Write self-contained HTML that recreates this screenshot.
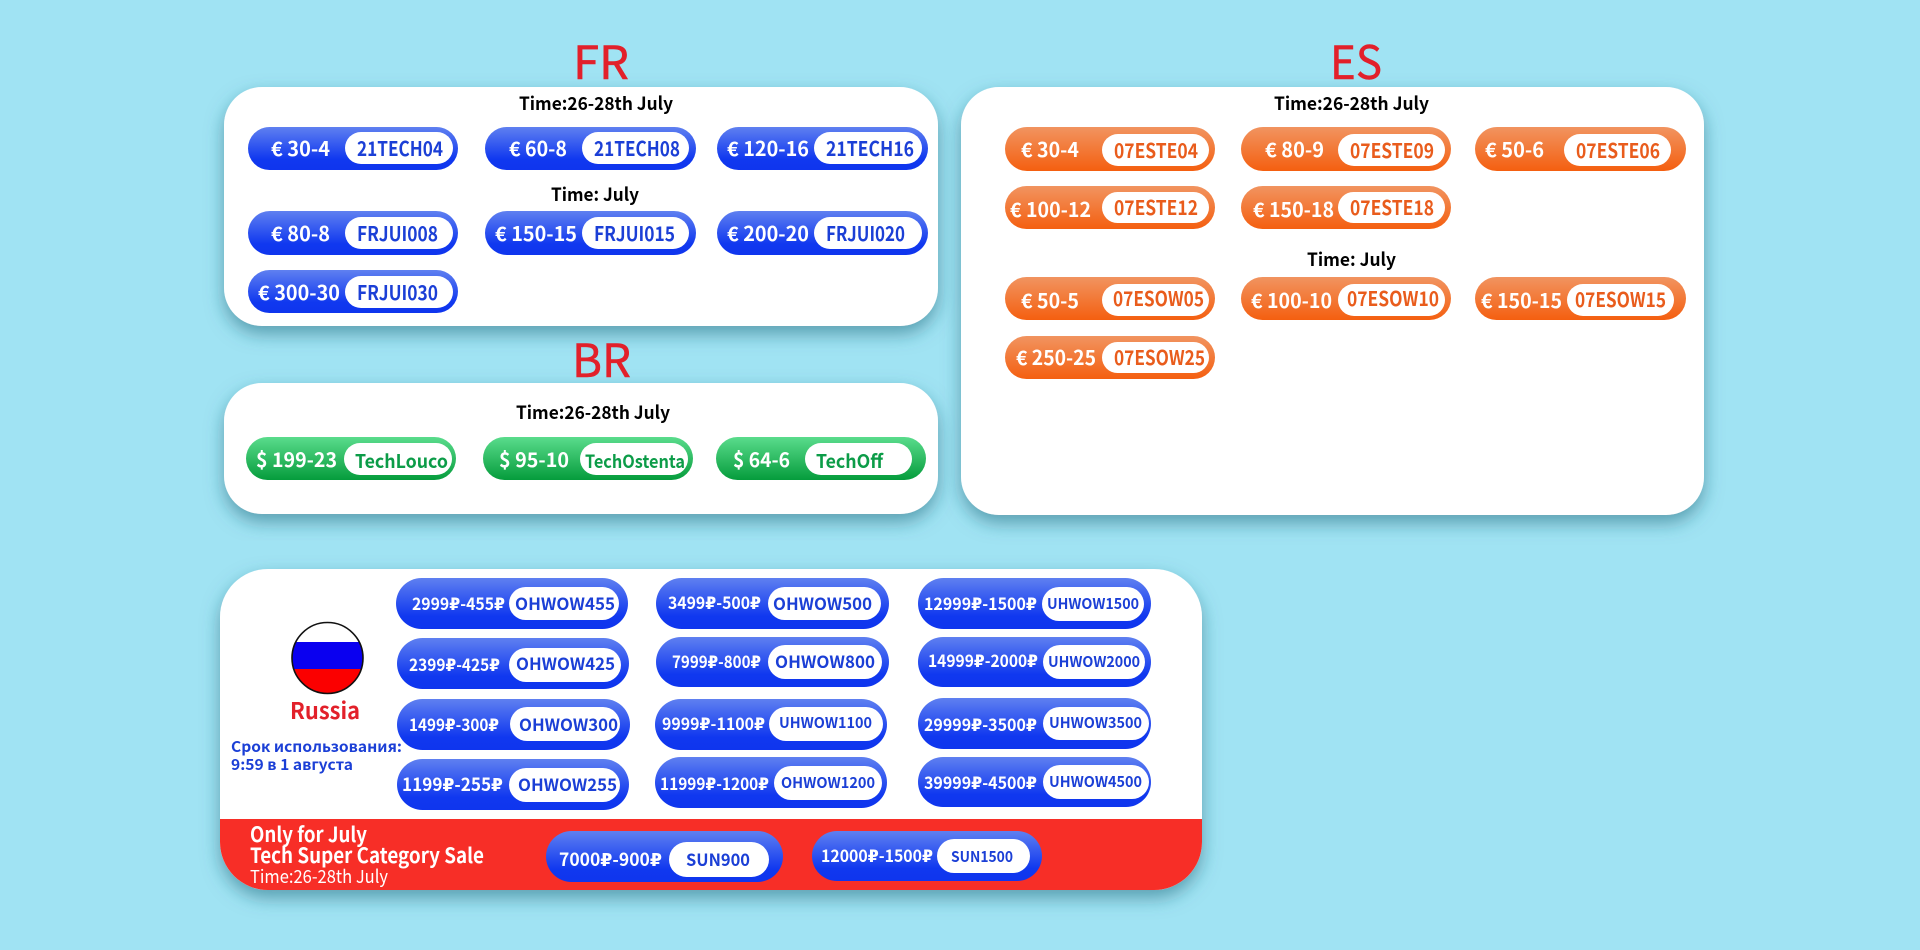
<!DOCTYPE html>
<html lang="en"><head><meta charset="utf-8"><title>Coupons</title>
<style>
html,body{margin:0;padding:0;width:1920px;height:950px;overflow:hidden;background:#a0e3f3}
svg{display:block}
text{font-family:"Noto Sans CJK SC","Liberation Sans","DejaVu Sans",sans-serif;font-weight:700}
.w{fill:#fff;font-size:20px}
.c{fill:#1b3fd6;font-size:20px}
.o{fill:#e95c1c;font-size:20px}
.g{fill:#0c9c48;font-size:20px}
.t{fill:#000;font-size:18px}
.h{fill:#e2202a;font-size:46px;font-weight:400;stroke:#e2202a;stroke-width:.5px}
.p{fill:#fff;font-size:17px}
.q{fill:#1b3fd6;font-size:17px}
.u{fill:#1b3fd6;font-size:15px}
</style></head><body>
<svg xmlns="http://www.w3.org/2000/svg" width="1920" height="950" viewBox="0 0 1920 950">
<defs>
<linearGradient id="b" x1="0" y1="0" x2="0" y2="1"><stop offset="0" stop-color="#5f80f0"/><stop offset=".75" stop-color="#1038ef"/><stop offset="1" stop-color="#0f35ee"/></linearGradient>
<linearGradient id="a" x1="0" y1="0" x2="0" y2="1"><stop offset="0" stop-color="#f19460"/><stop offset="1" stop-color="#f45f10"/></linearGradient>
<linearGradient id="n" x1="0" y1="0" x2="0" y2="1"><stop offset="0" stop-color="#5adc8c"/><stop offset="1" stop-color="#059c3c"/></linearGradient>
<filter id="s" x="-10%" y="-15%" width="120%" height="135%"><feDropShadow dx="0" dy="8" stdDeviation="9" flood-color="#1a6478" flood-opacity=".55"/></filter>
<clipPath id="fc"><circle cx="327.5" cy="658" r="35.5"/></clipPath>
</defs>

<!-- cards -->
<rect x="224" y="87" width="714" height="239" rx="38" fill="#fff" filter="url(#s)"/>
<rect x="224" y="383" width="714" height="131" rx="38" fill="#fff" filter="url(#s)"/>
<rect x="961" y="87" width="743" height="428" rx="38" fill="#fff" filter="url(#s)"/>
<rect x="220" y="569" width="982" height="321" rx="48" fill="#fff" filter="url(#s)"/>
<path d="M220 819H1202V842A48 48 0 0 1 1154 890H268A48 48 0 0 1 220 842Z" fill="#f72e27"/>

<!-- titles -->
<text class="h" x="573" y="79" textLength="56" lengthAdjust="spacingAndGlyphs">FR</text>
<text class="h" x="1330" y="79" textLength="52" lengthAdjust="spacingAndGlyphs">ES</text>
<text class="h" x="572" y="377" textLength="59" lengthAdjust="spacingAndGlyphs">BR</text>
<text class="t" x="519" y="110" textLength="154" lengthAdjust="spacingAndGlyphs">Time:26-28th July</text>
<text class="t" x="551" y="201" textLength="88" lengthAdjust="spacingAndGlyphs">Time: July</text>
<text class="t" x="1274" y="110" textLength="155" lengthAdjust="spacingAndGlyphs">Time:26-28th July</text>
<text class="t" x="1307" y="266" textLength="89" lengthAdjust="spacingAndGlyphs">Time: July</text>
<text class="t" x="516" y="419" textLength="154" lengthAdjust="spacingAndGlyphs">Time:26-28th July</text>

<!-- FR -->
<g fill="url(#b)">
<rect x="248" y="127" width="210" height="43" rx="21.5"/><rect x="485" y="127" width="211" height="43" rx="21.5"/><rect x="717" y="127" width="211" height="43" rx="21.5"/>
<rect x="248" y="211" width="210" height="44" rx="22"/><rect x="485" y="211" width="211" height="44" rx="22"/><rect x="717" y="211" width="211" height="44" rx="22"/>
<rect x="248" y="270" width="210" height="43" rx="21.5"/>
</g>
<g fill="#fff">
<rect x="345" y="132" width="108" height="32" rx="16"/><rect x="582" y="132" width="107" height="32" rx="16"/><rect x="814" y="132" width="108" height="32" rx="16"/>
<rect x="345" y="217" width="108" height="32" rx="16"/><rect x="582" y="217" width="107" height="32" rx="16"/><rect x="814" y="217" width="108" height="32" rx="16"/>
<rect x="345" y="276" width="108" height="32" rx="16"/>
</g>
<text class="w" x="271" y="156" textLength="59" lengthAdjust="spacingAndGlyphs">€ 30-4</text>
<text class="c" x="357" y="156" textLength="86" lengthAdjust="spacingAndGlyphs">21TECH04</text>
<text class="w" x="509" y="156" textLength="58" lengthAdjust="spacingAndGlyphs">€ 60-8</text>
<text class="c" x="594" y="156" textLength="86" lengthAdjust="spacingAndGlyphs">21TECH08</text>
<text class="w" x="727" y="156" textLength="82" lengthAdjust="spacingAndGlyphs">€ 120-16</text>
<text class="c" x="826" y="156" textLength="88" lengthAdjust="spacingAndGlyphs">21TECH16</text>
<text class="w" x="271" y="241" textLength="59" lengthAdjust="spacingAndGlyphs">€ 80-8</text>
<text class="c" x="357" y="241" textLength="81" lengthAdjust="spacingAndGlyphs">FRJUI008</text>
<text class="w" x="495" y="241" textLength="82" lengthAdjust="spacingAndGlyphs">€ 150-15</text>
<text class="c" x="594" y="241" textLength="81" lengthAdjust="spacingAndGlyphs">FRJUI015</text>
<text class="w" x="727" y="241" textLength="82" lengthAdjust="spacingAndGlyphs">€ 200-20</text>
<text class="c" x="826" y="241" textLength="79" lengthAdjust="spacingAndGlyphs">FRJUI020</text>
<text class="w" x="258" y="300" textLength="82" lengthAdjust="spacingAndGlyphs">€ 300-30</text>
<text class="c" x="357" y="300" textLength="81" lengthAdjust="spacingAndGlyphs">FRJUI030</text>

<!-- ES -->
<g fill="url(#a)">
<rect x="1005" y="127" width="210" height="44" rx="22"/><rect x="1241" y="127" width="210" height="44" rx="22"/><rect x="1475" y="127" width="211" height="44" rx="22"/>
<rect x="1005" y="186" width="210" height="43" rx="21.5"/><rect x="1241" y="186" width="210" height="43" rx="21.5"/>
<rect x="1005" y="277" width="210" height="43" rx="21.5"/><rect x="1241" y="277" width="210" height="43" rx="21.5"/><rect x="1475" y="277" width="211" height="43" rx="21.5"/>
<rect x="1005" y="336" width="210" height="43" rx="21.5"/>
</g>
<g fill="#fff">
<rect x="1102" y="134" width="107" height="32" rx="16"/><rect x="1338" y="134" width="107" height="32" rx="16"/><rect x="1564" y="134" width="107" height="32" rx="16"/>
<rect x="1102" y="192" width="107" height="31" rx="15.500"/><rect x="1338" y="192" width="107" height="31" rx="15.500"/>
<rect x="1102" y="284" width="107" height="32" rx="16"/><rect x="1338" y="284" width="107" height="32" rx="16"/><rect x="1567" y="284" width="107" height="32" rx="16"/>
<rect x="1102" y="342" width="107" height="31" rx="15.500"/>
</g>
<text class="w" x="1021" y="157" textLength="58" lengthAdjust="spacingAndGlyphs">€ 30-4</text>
<text class="o" x="1114" y="158" textLength="84" lengthAdjust="spacingAndGlyphs">07ESTE04</text>
<text class="w" x="1265" y="157" textLength="59" lengthAdjust="spacingAndGlyphs">€ 80-9</text>
<text class="o" x="1350" y="158" textLength="84" lengthAdjust="spacingAndGlyphs">07ESTE09</text>
<text class="w" x="1485" y="157" textLength="59" lengthAdjust="spacingAndGlyphs">€ 50-6</text>
<text class="o" x="1576" y="158" textLength="84" lengthAdjust="spacingAndGlyphs">07ESTE06</text>
<text class="w" x="1010" y="217" textLength="81" lengthAdjust="spacingAndGlyphs">€ 100-12</text>
<text class="o" x="1114" y="215" textLength="84" lengthAdjust="spacingAndGlyphs">07ESTE12</text>
<text class="w" x="1253" y="217" textLength="81" lengthAdjust="spacingAndGlyphs">€ 150-18</text>
<text class="o" x="1350" y="215" textLength="84" lengthAdjust="spacingAndGlyphs">07ESTE18</text>
<text class="w" x="1021" y="308" textLength="58" lengthAdjust="spacingAndGlyphs">€ 50-5</text>
<text class="o" x="1113" y="306" textLength="91" lengthAdjust="spacingAndGlyphs">07ESOW05</text>
<text class="w" x="1251" y="308" textLength="81" lengthAdjust="spacingAndGlyphs">€ 100-10</text>
<text class="o" x="1347" y="306" textLength="92" lengthAdjust="spacingAndGlyphs">07ESOW10</text>
<text class="w" x="1481" y="308" textLength="81" lengthAdjust="spacingAndGlyphs">€ 150-15</text>
<text class="o" x="1575" y="307" textLength="91" lengthAdjust="spacingAndGlyphs">07ESOW15</text>
<text class="w" x="1016" y="365" textLength="80" lengthAdjust="spacingAndGlyphs">€ 250-25</text>
<text class="o" x="1114" y="365" textLength="91" lengthAdjust="spacingAndGlyphs">07ESOW25</text>

<!-- BR -->
<g fill="url(#n)">
<rect x="246" y="437" width="210" height="43" rx="21.5"/><rect x="483" y="437" width="210" height="43" rx="21.5"/><rect x="716" y="437" width="210" height="43" rx="21.5"/>
</g>
<g fill="#fff">
<rect x="344" y="443" width="108" height="32" rx="16"/><rect x="580" y="443" width="108" height="32" rx="16"/><rect x="805" y="443" width="107" height="32" rx="16"/>
</g>
<text class="w" x="256" y="467" textLength="81" lengthAdjust="spacingAndGlyphs">$ 199-23</text>
<text class="g" x="355" y="468" textLength="93" lengthAdjust="spacingAndGlyphs" style="font-size:19px">TechLouco</text>
<text class="w" x="499" y="467" textLength="70" lengthAdjust="spacingAndGlyphs">$ 95-10</text>
<text class="g" x="585" y="468" textLength="100" lengthAdjust="spacingAndGlyphs" style="font-size:18px">TechOstenta</text>
<text class="w" x="733" y="467" textLength="57" lengthAdjust="spacingAndGlyphs">$ 64-6</text>
<text class="g" x="816" y="468" textLength="67" lengthAdjust="spacingAndGlyphs" style="font-size:19px">TechOff</text>

<!-- RU left -->
<g clip-path="url(#fc)">
<rect x="290" y="620" width="75" height="22" fill="#fff"/>
<rect x="290" y="642" width="75" height="27" fill="#0a00f0"/>
<rect x="290" y="669" width="75" height="27" fill="#fb0000"/>
</g>
<circle cx="327.5" cy="658" r="35.5" fill="none" stroke="#111" stroke-width="1.600"/>
<text x="290" y="719" textLength="70" lengthAdjust="spacingAndGlyphs" style="font-size:23px;fill:#e2202a">Russia</text>
<text x="231" y="752" textLength="171" lengthAdjust="spacingAndGlyphs" style="font-size:15px;fill:#1b3fd6">Срок использования:</text>
<text x="231" y="770" textLength="122" lengthAdjust="spacingAndGlyphs" style="font-size:15px;fill:#1b3fd6">9:59 в 1 августа</text>

<!-- RU pills -->
<g fill="url(#b)">
<rect x="396" y="578" width="232" height="51" rx="25.5"/><rect x="397" y="638" width="232" height="51" rx="25.5"/><rect x="397" y="699" width="233" height="51" rx="25.5"/><rect x="397" y="759" width="232" height="51" rx="25.5"/>
<rect x="656" y="578" width="233" height="51" rx="25.5"/><rect x="656" y="637" width="233" height="50" rx="25"/><rect x="655" y="699" width="232" height="51" rx="25.5"/><rect x="655" y="757" width="232" height="51" rx="25.5"/>
<rect x="918" y="578" width="233" height="51" rx="25.5"/><rect x="918" y="637" width="233" height="50" rx="25"/><rect x="918" y="698" width="233" height="51" rx="25.5"/><rect x="918" y="757" width="233" height="50" rx="25"/>
<rect x="546" y="831" width="237" height="51" rx="25.5"/><rect x="812" y="831" width="230" height="50" rx="25"/>
</g>
<g fill="#fff">
<rect x="509" y="587" width="110" height="33" rx="16.500"/><rect x="509" y="648" width="112" height="34" rx="17"/><rect x="510" y="707" width="110" height="34" rx="17"/><rect x="509" y="768" width="111" height="34" rx="17"/>
<rect x="768" y="587" width="113" height="33" rx="16.500"/><rect x="768" y="645" width="114" height="34" rx="17"/><rect x="769" y="707" width="114" height="34" rx="17"/><rect x="774" y="766" width="108" height="34" rx="17"/>
<rect x="1042" y="587" width="102" height="34" rx="17"/><rect x="1043" y="645" width="102" height="34" rx="17"/><rect x="1043" y="707" width="106" height="33" rx="16.500"/><rect x="1043" y="765" width="106" height="34" rx="17"/>
<rect x="669" y="842" width="100" height="35" rx="17.500"/><rect x="937" y="839" width="93" height="34" rx="17"/>
</g>
<text class="p" x="412" y="610" textLength="93" lengthAdjust="spacingAndGlyphs">2999₽-455₽</text>
<text class="q" x="515" y="610" textLength="100" lengthAdjust="spacingAndGlyphs">OHWOW455</text>
<text class="p" x="409" y="671" textLength="91" lengthAdjust="spacingAndGlyphs">2399₽-425₽</text>
<text class="q" x="516" y="670" textLength="99" lengthAdjust="spacingAndGlyphs">OHWOW425</text>
<text class="p" x="409" y="731" textLength="90" lengthAdjust="spacingAndGlyphs">1499₽-300₽</text>
<text class="q" x="519" y="731" textLength="99" lengthAdjust="spacingAndGlyphs">OHWOW300</text>
<text class="p" x="402" y="791" textLength="101" lengthAdjust="spacingAndGlyphs" style="font-size:18px">1199₽-255₽</text>
<text class="q" x="518" y="791" textLength="99" lengthAdjust="spacingAndGlyphs">OHWOW255</text>

<text class="p" x="668" y="609" textLength="93" lengthAdjust="spacingAndGlyphs">3499₽-500₽</text>
<text class="q" x="773" y="610" textLength="99" lengthAdjust="spacingAndGlyphs">OHWOW500</text>
<text class="p" x="672" y="668" textLength="89" lengthAdjust="spacingAndGlyphs">7999₽-800₽</text>
<text class="q" x="775" y="668" textLength="100" lengthAdjust="spacingAndGlyphs">OHWOW800</text>
<text class="p" x="662" y="730" textLength="103" lengthAdjust="spacingAndGlyphs">9999₽-1100₽</text>
<text class="u" x="779" y="728" textLength="93" lengthAdjust="spacingAndGlyphs">UHWOW1100</text>
<text class="p" x="660" y="790" textLength="109" lengthAdjust="spacingAndGlyphs">11999₽-1200₽</text>
<text class="u" x="781" y="788" textLength="94" lengthAdjust="spacingAndGlyphs">OHWOW1200</text>

<text class="p" x="924" y="610" textLength="113" lengthAdjust="spacingAndGlyphs">12999₽-1500₽</text>
<text class="u" x="1047" y="609" textLength="92" lengthAdjust="spacingAndGlyphs">UHWOW1500</text>
<text class="p" x="928" y="667" textLength="110" lengthAdjust="spacingAndGlyphs">14999₽-2000₽</text>
<text class="u" x="1048" y="667" textLength="92" lengthAdjust="spacingAndGlyphs">UHWOW2000</text>
<text class="p" x="924" y="731" textLength="113" lengthAdjust="spacingAndGlyphs">29999₽-3500₽</text>
<text class="u" x="1049" y="728" textLength="93" lengthAdjust="spacingAndGlyphs">UHWOW3500</text>
<text class="p" x="924" y="789" textLength="113" lengthAdjust="spacingAndGlyphs">39999₽-4500₽</text>
<text class="u" x="1049" y="787" textLength="93" lengthAdjust="spacingAndGlyphs">UHWOW4500</text>

<!-- red band -->
<text x="250" y="842" textLength="117" lengthAdjust="spacingAndGlyphs" style="font-size:21px;fill:#fff">Only for July</text>
<text x="250" y="863" textLength="234" lengthAdjust="spacingAndGlyphs" style="font-size:21px;fill:#fff">Tech Super Category Sale</text>
<text x="250" y="883" textLength="138" lengthAdjust="spacingAndGlyphs" style="font-size:18px;fill:#fff;font-weight:400">Time:26-28th July</text>
<text class="p" x="559" y="866" textLength="103" lengthAdjust="spacingAndGlyphs" style="font-size:18px">7000₽-900₽</text>
<text class="q" x="686" y="866" textLength="64" lengthAdjust="spacingAndGlyphs">SUN900</text>
<text class="p" x="821" y="862" textLength="112" lengthAdjust="spacingAndGlyphs">12000₽-1500₽</text>
<text class="u" x="951" y="862" textLength="62" lengthAdjust="spacingAndGlyphs">SUN1500</text>
</svg>
</body></html>
